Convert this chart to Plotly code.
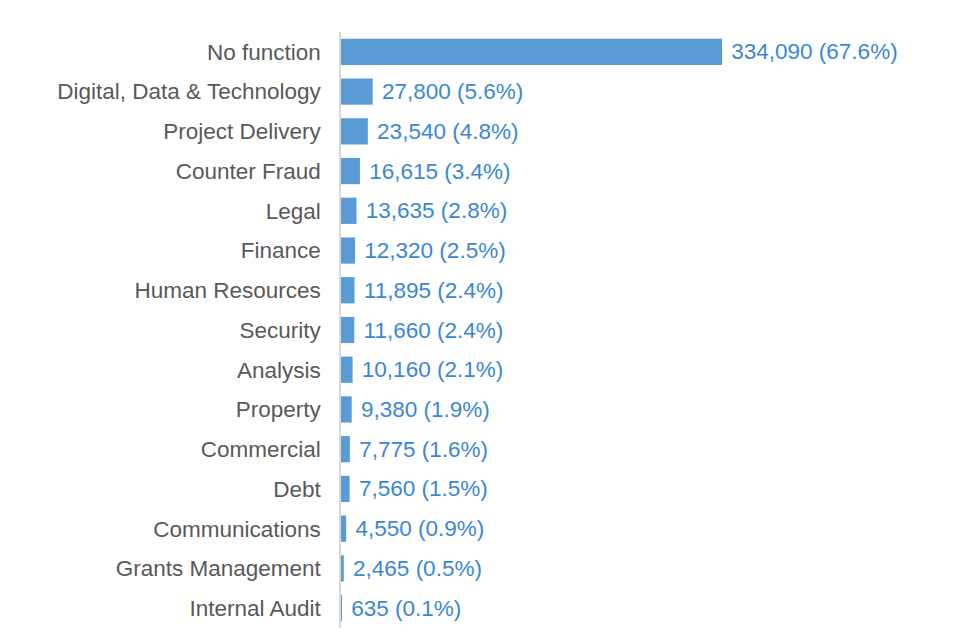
import plotly.graph_objects as go

categories = ["No function", "Digital, Data & Technology", "Project Delivery", "Counter Fraud",
              "Legal", "Finance", "Human Resources", "Security", "Analysis", "Property",
              "Commercial", "Debt", "Communications", "Grants Management", "Internal Audit"]
values = [334090, 27800, 23540, 16615, 13635, 12320, 11895, 11660, 10160, 9380,
          7775, 7560, 4550, 2465, 635]
percents = [67.6, 5.6, 4.8, 3.4, 2.8, 2.5, 2.4, 2.4, 2.1, 1.9, 1.6, 1.5, 0.9, 0.5, 0.1]

labels = [f" {v:,} ({p:.1f}%)" for v, p in zip(values, percents)]

fig = go.Figure(go.Bar(
    x=values, y=categories, orientation="h",
    marker=dict(color="#5B9BD5", line=dict(width=0)),
    text=labels, textposition="outside", cliponaxis=False,
    textfont=dict(family="Liberation Sans, Arial, sans-serif", size=22.5, color="#3A87D6"),
))

fig.update_layout(
    width=952, height=632,
    margin=dict(l=333, r=40, t=24, b=12),
    paper_bgcolor="white", plot_bgcolor="white",
    bargap=0.34, showlegend=False,
    font=dict(family="Liberation Sans, Arial, sans-serif", size=22.5, color="#595959"),
    uniformtext=dict(minsize=22, mode="show"),
)
fig.update_xaxes(range=[0, 507700], visible=False, showgrid=False, zeroline=False)
fig.update_yaxes(autorange="reversed", showline=True, linecolor="#D9D9D9", linewidth=1.5,
                 showgrid=False, ticks="", ticklabelstandoff=14,
                 tickfont=dict(size=22.5, color="#595959"))

fig.write_html("out.html")
